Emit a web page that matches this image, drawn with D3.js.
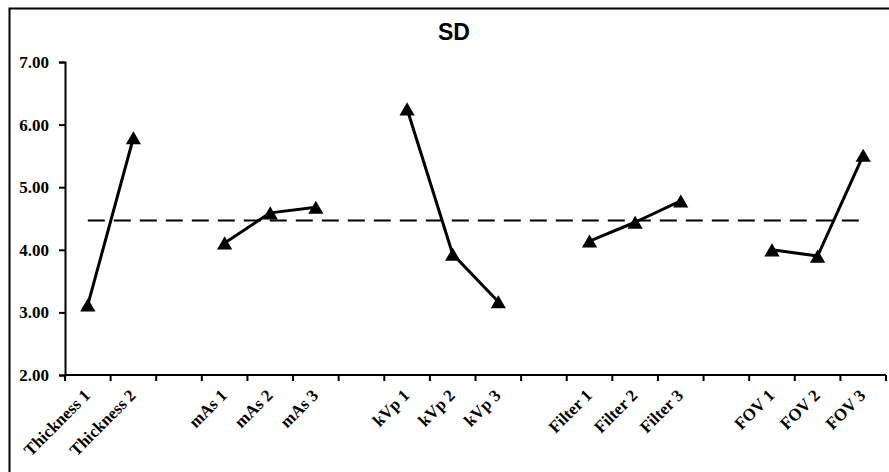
<!doctype html>
<html>
<head>
  <meta charset="utf-8">
  <title>SD</title>
  <style>
    html, body { margin: 0; padding: 0; background: #fff; }
    svg { display: block; }
    .tick-label { font-family: "Times New Roman", "Liberation Serif", serif; font-weight: bold; font-size: 17px; fill: #000; }
  </style>
</head>
<body>
  <div id="chart"></div>

  <script src="https://d3js.org/d3.v7.min.js"></script>
  <script>
    // categories, "" marks the empty gap slots between factor groups
    const categories = ["Thickness 1", "Thickness 2", "",
                        "mAs 1", "mAs 2", "mAs 3", "",
                        "kVp 1", "kVp 2", "kVp 3", "",
                        "Filter 1", "Filter 2", "Filter 3", "",
                        "FOV 1", "FOV 2", "FOV 3"];
    const sdValues = [3.12, 5.79, null,
                      4.11, 4.59, 4.68, null,
                      6.25, 3.93, 3.17, null,
                      4.14, 4.44, 4.78, null,
                      4.00, 3.90, 5.51];
    const meanSD = 4.47;
    const yTicks = [2, 3, 4, 5, 6, 7];

    const width = 889, height = 472;
    const plot = { left: 65, right: 886, top: 62, bottom: 375 };

    var svg = d3.select("#chart").append("svg")
        .attr("width", width)
        .attr("height", height);

    // outer chart border (runs off the right and bottom edge like the original)
    svg.append("rect")
        .attr("x", 9.5).attr("y", 8.5)
        .attr("width", 920).attr("height", 520)
        .attr("fill", "none")
        .attr("stroke", "#000")
        .attr("stroke-width", 2);

    svg.append("text")
        .attr("x", 454).attr("y", 40)
        .attr("text-anchor", "middle")
        .style("font", "bold 23px Arial, 'Liberation Sans', sans-serif")
        .text("SD");

    var x = d3.scaleBand()
        .domain(d3.range(categories.length))
        .range([plot.left, plot.right]);

    var y = d3.scaleLinear()
        .domain([2, 7])
        .range([plot.bottom, plot.top]);

    const cx = i => x(i) + x.bandwidth() / 2;

    // y axis
    var yAxis = svg.append("g")
        .attr("transform", "translate(" + plot.left + ",0)")
        .call(d3.axisLeft(y).tickValues(yTicks).tickFormat(d3.format(".2f")).tickSize(6).tickPadding(10));
    yAxis.select(".domain").attr("stroke-width", 2);
    yAxis.selectAll(".tick line").attr("stroke-width", 2);
    yAxis.selectAll(".tick text").attr("class", "tick-label");

    // x axis, ticks between categories
    var xAxis = svg.append("g")
        .attr("transform", "translate(0," + plot.bottom + ")");
    xAxis.append("line")
        .attr("x1", plot.left).attr("x2", plot.right)
        .attr("stroke", "#000").attr("stroke-width", 2);
    xAxis.selectAll("line.tk")
      .data(d3.range(categories.length + 1))
      .join("line")
        .attr("class", "tk")
        .attr("x1", i => i < categories.length ? x(i) : plot.right)
        .attr("x2", i => i < categories.length ? x(i) : plot.right)
        .attr("y1", 0).attr("y2", 6)
        .attr("stroke", "#000").attr("stroke-width", 2);
    xAxis.selectAll("text")
      .data(categories)
      .join("text")
        .attr("class", "tick-label")
        .attr("text-anchor", "end")
        .attr("transform", (d, i) => "translate(" + (cx(i) - 5) + ",13) rotate(-45)")
        .attr("dy", "0.7em")
        .text(d => d);

    // mean line
    svg.append("line")
        .attr("x1", cx(0)).attr("x2", cx(categories.length - 1))
        .attr("y1", y(meanSD)).attr("y2", y(meanSD))
        .attr("stroke", "#000")
        .attr("stroke-width", 2)
        .attr("stroke-dasharray", "17,9");

    // SD series, broken at the gaps
    var line = d3.line()
        .defined(d => d != null)
        .x((d, i) => cx(i))
        .y(d => y(d));

    svg.append("path")
        .datum(sdValues)
        .attr("d", line)
        .attr("fill", "none")
        .attr("stroke", "#000")
        .attr("stroke-width", 3)
        .attr("stroke-linejoin", "round");

    var tri = d3.symbol().type(d3.symbolTriangle).size(100);
    const shift = Math.sqrt(100 / (3 * Math.sqrt(3))) / 2;
    svg.selectAll("path.marker")
      .data(sdValues.map((v, i) => ({ v, i })).filter(d => d.v != null))
      .join("path")
        .attr("class", "marker")
        .attr("d", tri)
        .attr("transform", d => "translate(" + cx(d.i) + "," + (y(d.v) + shift) + ")")
        .attr("fill", "#000");
  </script>
</body>
</html>
